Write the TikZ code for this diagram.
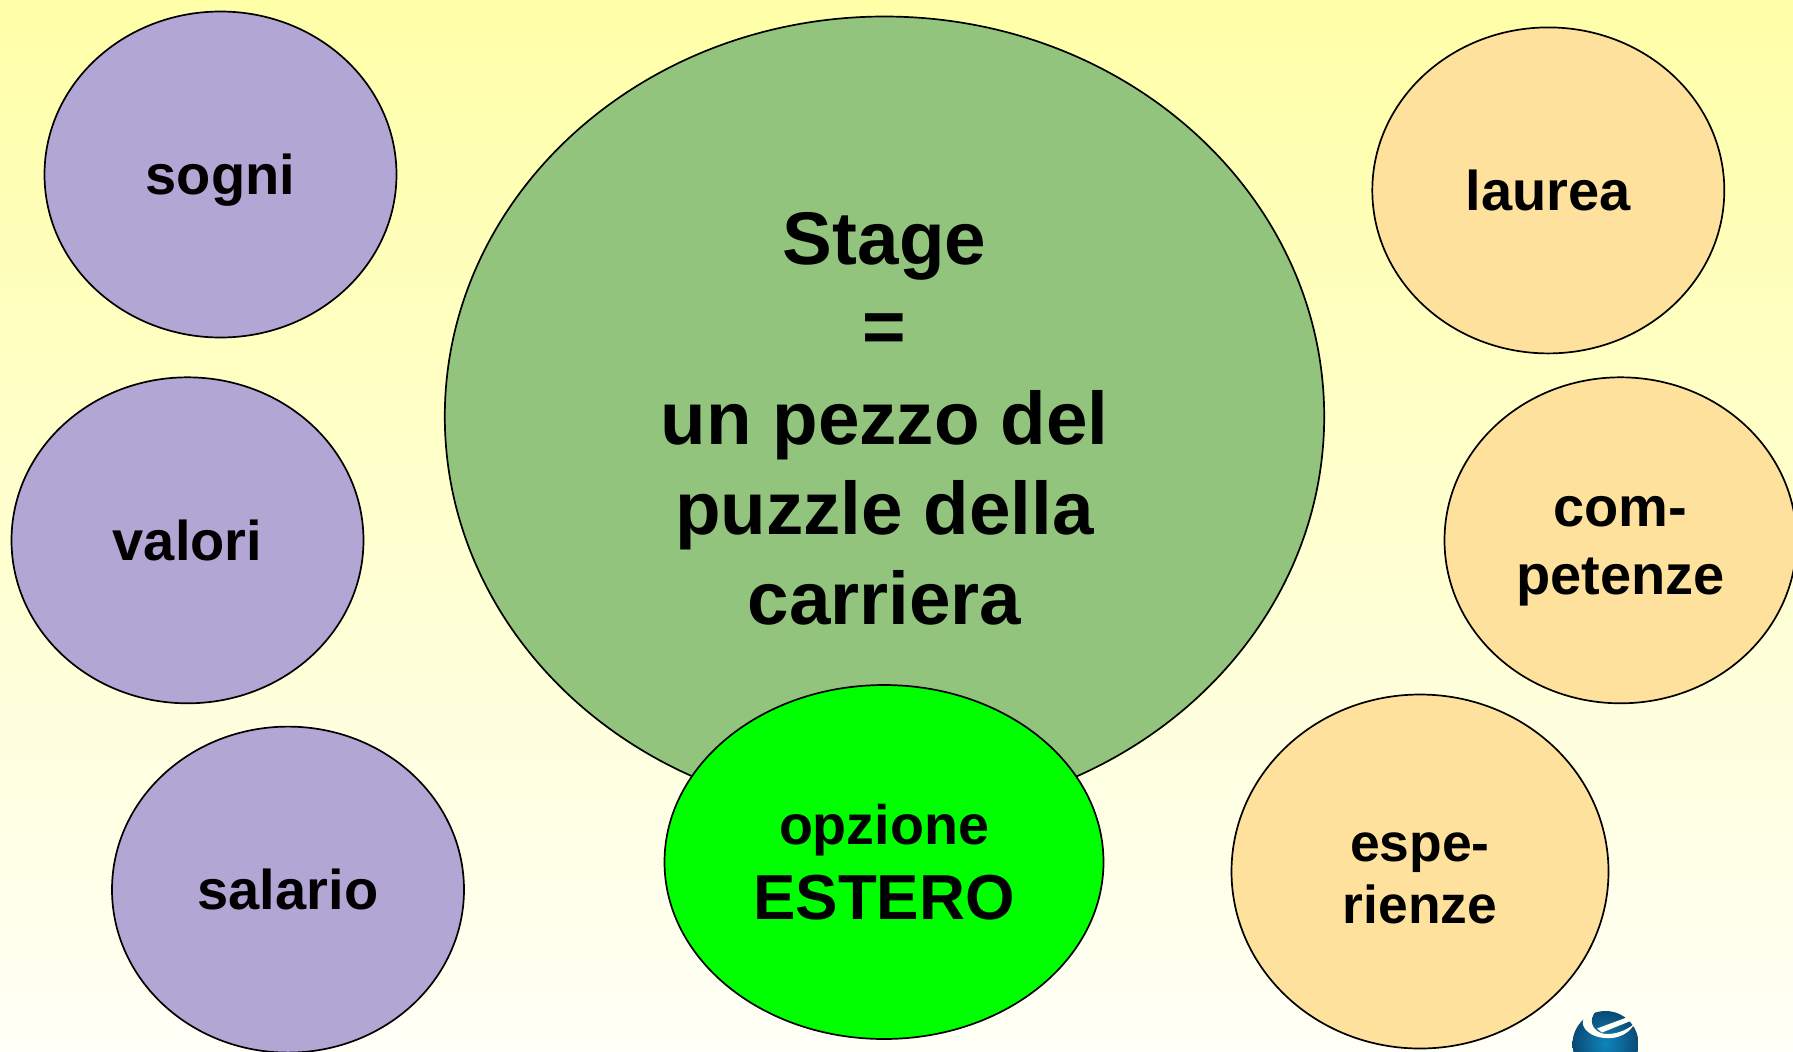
\documentclass[tikz,border=0pt]{standalone}
\usepackage{fontspec}
\setmainfont{Liberation Sans}[BoldFont={Liberation Sans Bold}]
\usetikzlibrary{shapes.geometric}
\definecolor{bgtop}{HTML}{FFFFA8}
\definecolor{bgbot}{HTML}{FFFFF6}
\definecolor{lilac}{HTML}{B2A6D4}
\definecolor{sand}{HTML}{FDE19C}
\definecolor{sage}{HTML}{93C47D}
\definecolor{vivid}{HTML}{00FF00}
\definecolor{logoA}{HTML}{0E86BC}
\definecolor{logoB}{HTML}{0A4A75}
% first line of a node, lowered by #1 inside its centred node
\newcommand\lowered[2]{\setbox0\hbox{#2}\rule{0pt}{\dimexpr\ht0+2\dimexpr#1\relax\relax}#2}
\tikzset{
  bubble/.style={ellipse,draw=black,line width=0.85pt,inner sep=0pt,outer sep=0pt,align=center,font=\bfseries},
  purple/.style={bubble,fill=lilac,minimum width=176pt,minimum height=163pt},
  orange/.style={bubble,fill=sand,minimum width=176pt,minimum height=163pt},
  fsmid/.style={font=\fontsize{28}{34}\bfseries\selectfont}
}
\begin{document}
\begin{tikzpicture}[x=0.5pt,y=-0.5pt]
\useasboundingbox (0,0) rectangle (1793,1051);
\clip (0,0) rectangle (1793,1051);
\shade[top color=bgtop,bottom color=bgbot] (0,0) rectangle (1793,1051);
\node[bubble,fill=sage,minimum width=439.7pt,minimum height=400pt,font=\fontsize{37.3}{45}\bfseries\selectfont] (stage) at (884.5,416.5) {\lowered{1.1pt}{Stage}\\\raisebox{1pt}{=}\\un pezzo del\\puzzle della\\carriera};
\node[bubble,fill=vivid,minimum width=219.5pt,minimum height=177pt] (estero) at (884,862) {\fontsize{27.8}{36}\bfseries\selectfont opzione\\[8.4pt]\fontsize{31.8}{36}\bfseries\selectfont ESTERO};
\node[purple,fsmid] (sogni) at (220.5,174.5) {\lowered{2.9pt}{sogni}};
\node[purple,fsmid] (valori) at (187.5,540.3) {\lowered{0.2pt}{valori}};
\node[purple,fsmid] (salario) at (288,889.6) {salario};
\node[orange,fsmid] (laurea) at (1548.3,190.4) {\lowered{0.2pt}{laurea}};
\node[orange,fsmid] (comp) at (1620.5,540.3) {\lowered{5.4pt}{com-}\\petenze};
\node[orange,font=\fontsize{26.7}{31.4}\bfseries\selectfont,minimum width=188.5pt,minimum height=177pt] (esp) at (1420,871.5) {\lowered{3.4pt}{espe-}\\rienze};
% logo
\shade[inner color=logoA,outer color=logoB] (1605.5,1044) circle[radius=33];
\fill[bgbot] (1595,1011) .. controls (1586,1014) and (1581,1019) .. (1583,1025) .. controls (1587,1036) and (1602,1039) .. (1612,1038) .. controls (1622,1037) and (1631,1031) .. (1634,1024) .. controls (1627,1030) and (1617,1034) .. (1607,1034) .. controls (1597,1034) and (1590,1026) .. (1592,1018) -- (1595,1011) -- cycle;
\fill[bgbot] (1597,1028.5) -- (1632,1015.5) -- (1633,1020) -- (1602,1032.5) -- cycle;
\end{tikzpicture}
\end{document}
